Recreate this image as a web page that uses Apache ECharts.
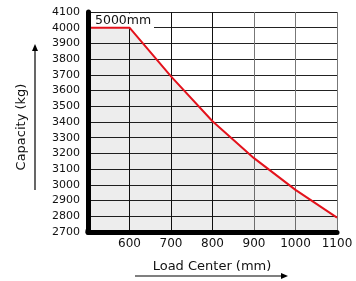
<!DOCTYPE html>
<html>
<head>
<meta charset="utf-8">
<script src="https://cdn.jsdelivr.net/npm/echarts@6/dist/echarts.min.js"></script>
<style>html,body{margin:0;padding:0;background:#fff}#c{width:356px;height:281px}</style>
</head>
<body>
<div id="c"></div>
<script>
var loadCenter = [500, 600, 700, 800, 900, 1000, 1100];
var capacity = [4000, 4000, 3690, 3405, 3170, 2968, 2792];
var mastLabel = '5000mm';
var xName = 'Load Center (mm)';
var yName = 'Capacity (kg)';

var FONT = 'DejaVu Sans';
var chart = echarts.init(document.getElementById('c'));
var pts = loadCenter.map(function (x, i) { return [x, capacity[i]]; });
var plain = function (v) { return String(v); };
chart.setOption({
  animation: false,
  grid: { left: 88, right: 19, top: 12, bottom: 49 },
  xAxis: [{
    type: 'value', min: 500, max: 1100, interval: 100,
    axisLine: { show: false },
    axisTick: { show: false },
    axisLabel: { showMinLabel: false, margin: 6, color: '#111', fontFamily: FONT, fontSize: 12, formatter: plain },
    splitLine: { show: true, lineStyle: { color: ['#111','#111','#111','#111','#777','#777','#777'], width: 1 } }
  }, {
    type: 'value', min: 500, max: 1100, position: 'bottom', z: 10,
    axisLine: { show: true, onZero: false, lineStyle: { color: '#000', width: 5 } },
    axisTick: { show: false }, axisLabel: { show: false }, splitLine: { show: false }
  }],
  yAxis: [{
    type: 'value', min: 2700, max: 4100, interval: 100,
    axisLine: { show: false },
    axisTick: { show: false },
    axisLabel: { margin: 8, color: '#111', fontFamily: FONT, fontSize: 11, formatter: plain },
    splitLine: { show: true, lineStyle: { color: '#222', width: 1 } }
  }, {
    type: 'value', min: 2700, max: 4100, position: 'left', z: 10,
    axisLine: { show: true, onZero: false, lineStyle: { color: '#000', width: 5 } },
    axisTick: { show: false }, axisLabel: { show: false }, splitLine: { show: false }
  }],
  series: [{
    type: 'line', data: pts, symbol: 'none', z: 3,
    lineStyle: { color: '#e3121c', width: 2 },
    areaStyle: { color: 'rgba(0,0,0,0.1)', origin: 'start' }
  }],
  graphic: [
    { type: 'rect', z: 1, shape: { x: 91, y: 13.5, width: 63, height: 15.2 }, style: { fill: '#fff' } },
    { type: 'text', x: 95, y: 20.5, z: 2,
      style: { text: mastLabel, font: '12.5px "DejaVu Sans"', fill: '#111', verticalAlign: 'middle' } },
    { type: 'rect', z: 10, shape: { x: 85.5, y: 229.5, width: 5, height: 5, r: [0, 0, 0, 3] }, style: { fill: '#000' } },
    { type: 'text', x: 22, y: 127, rotation: Math.PI / 2, z: 10,
      style: { text: yName, font: '13px "DejaVu Sans"', fill: '#111', align: 'center', verticalAlign: 'middle' } },
    { type: 'line', z: 10, shape: { x1: 35, y1: 190, x2: 35, y2: 50 }, style: { stroke: '#000', lineWidth: 1.2 } },
    { type: 'polygon', z: 10, shape: { points: [[35, 44], [32, 51], [38, 51]] }, style: { fill: '#000' } },
    { type: 'text', x: 212, y: 267, z: 10,
      style: { text: xName, font: '13px "DejaVu Sans"', fill: '#111', align: 'center', verticalAlign: 'middle' } },
    { type: 'line', z: 10, shape: { x1: 135, y1: 276, x2: 281, y2: 276 }, style: { stroke: '#000', lineWidth: 1.2 } },
    { type: 'polygon', z: 10, shape: { points: [[288, 276], [281, 273], [281, 279]] }, style: { fill: '#000' } }
  ]
});
</script>
</body>
</html>
